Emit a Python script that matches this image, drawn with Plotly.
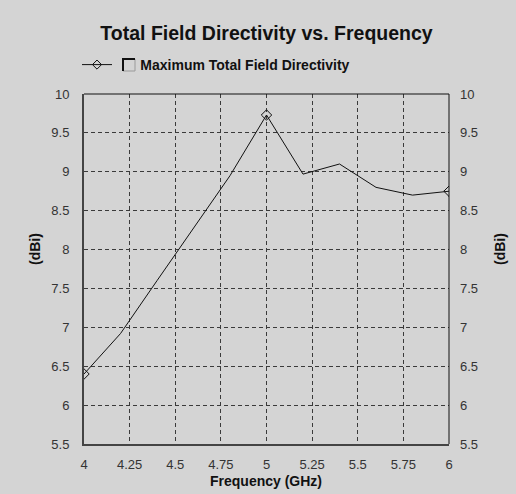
import plotly.graph_objects as go

freq = [4.0, 4.2, 4.4, 4.6, 4.8, 5.0, 5.2, 5.4, 5.6, 5.8, 6.0]
directivity = [6.40, 6.92, 7.60, 8.28, 8.95, 9.73, 8.97, 9.10, 8.80, 8.70, 8.75]
marker_idx = [0, 5, 10]
x_ticks = [4, 4.25, 4.5, 4.75, 5, 5.25, 5.5, 5.75, 6]
x_ticklabels = ["4", "4.25", "4.5", "4.75", "5", "5.25", "5.5", "5.75", "6"]
y_ticks = [5.5, 6, 6.5, 7, 7.5, 8, 8.5, 9, 9.5, 10]
y_ticklabels = ["5.5", "6", "6.5", "7", "7.5", "8", "8.5", "9", "9.5", "10"]

BG = "#d4d4d4"
FONT = "Liberation Sans, Arial, sans-serif"
W, H = 516, 494
L, R, T, B = 84, 67, 94, 50
PW, PH = W - L - R, H - T - B


def px(x):
    return (x - L) / PW


def py(y):
    return 1 - (y - T) / PH


fig = go.Figure()
# legend entry
fig.add_trace(go.Scatter(
    x=[None], y=[None], mode="lines+markers",
    name="\u00a0" * 6 + "<b>Maximum Total Field Directivity</b>",
    line=dict(color="#111111", width=1),
    marker=dict(symbol="diamond-open", size=7, color="#111111", line=dict(width=1, color="#111111")),
))
fig.add_trace(go.Scatter(x=freq, y=directivity, mode="lines", showlegend=False,
                         line=dict(color="#111111", width=1)))
fig.add_trace(go.Scatter(x=[freq[i] for i in marker_idx], y=[directivity[i] for i in marker_idx],
                         mode="markers", showlegend=False,
                         marker=dict(symbol="diamond-open", size=8, color="#111111",
                                     line=dict(width=1, color="#111111"))))
# invisible trace for right axis
fig.add_trace(go.Scatter(x=freq, y=directivity, yaxis="y2", mode="lines",
                         line=dict(width=0), opacity=0, showlegend=False, hoverinfo="skip"))

grid = dict(showgrid=True, gridcolor="#3a3a3a", gridwidth=1, griddash="4px,3px")
tickfont = dict(size=13, color="#333333")
fig.update_layout(
    width=W, height=H,
    paper_bgcolor=BG, plot_bgcolor=BG,
    margin=dict(l=L, r=R, t=T, b=B),
    font=dict(family=FONT, size=12, color="#222222"),
    title=dict(text="<b>Total Field Directivity vs. Frequency</b>", xref="paper", x=0.5, xanchor="center",
               y=1 - 33 / H, yanchor="middle", font=dict(size=19.5, color="#111111")),
    showlegend=True,
    legend=dict(x=px(77), y=py(65), xanchor="left", yanchor="middle",
                bgcolor="rgba(0,0,0,0)", font=dict(size=14, color="#111111"),
                itemwidth=30),
    xaxis=dict(range=[4, 6], tickvals=x_ticks, ticktext=x_ticklabels, **grid,
               zeroline=False, showline=True, linecolor="#444444", linewidth=2,
               ticks="", ticklabelstandoff=7, tickfont=tickfont),
    yaxis=dict(range=[5.5, 10], tickvals=y_ticks, ticktext=y_ticklabels, **grid,
               zeroline=False, showline=True, linecolor="#444444", linewidth=2,
               ticks="", ticklabelstandoff=10, tickfont=tickfont),
    yaxis2=dict(range=[5.5, 10], tickvals=y_ticks, ticktext=y_ticklabels, overlaying="y", side="right",
                showgrid=False, zeroline=False, showline=False, ticks="", ticklabelstandoff=10,
                tickfont=tickfont),
)
afont = dict(size=14, color="#111111", family=FONT)
fig.add_annotation(text="<b>Frequency (GHz)</b>", xref="paper", yref="paper", x=px(266), y=py(481),
                   xanchor="center", yanchor="middle", showarrow=False, font=afont)
fig.add_annotation(text="<b>(dBi)</b>", xref="paper", yref="paper", x=px(35), y=py(249),
                   xanchor="center", yanchor="middle", showarrow=False, textangle=-90, font=afont)
fig.add_annotation(text="<b>(dBi)</b>", xref="paper", yref="paper", x=px(500), y=py(249),
                   xanchor="center", yanchor="middle", showarrow=False, textangle=-90, font=afont)
# thin frame on top/right
fig.add_shape(type="line", xref="paper", yref="paper", x0=0, x1=1, y0=1, y1=1,
              line=dict(color="#111111", width=1))
fig.add_shape(type="line", xref="paper", yref="paper", x0=1, x1=1, y0=0, y1=1,
              line=dict(color="#111111", width=1))
# legend checkbox
fig.add_shape(type="rect", xref="paper", yref="paper",
              x0=px(123), x1=px(135), y0=py(71), y1=py(59),
              line=dict(color="#9a9a9a", width=1), fillcolor=BG)
fig.add_shape(type="path", xref="paper", yref="paper",
              path="M {a},{b} L {a},{c} L {d},{c}".format(a=px(123), b=py(71), c=py(59), d=px(135)),
              line=dict(color="#111111", width=2))

fig.write_html("out.html")
